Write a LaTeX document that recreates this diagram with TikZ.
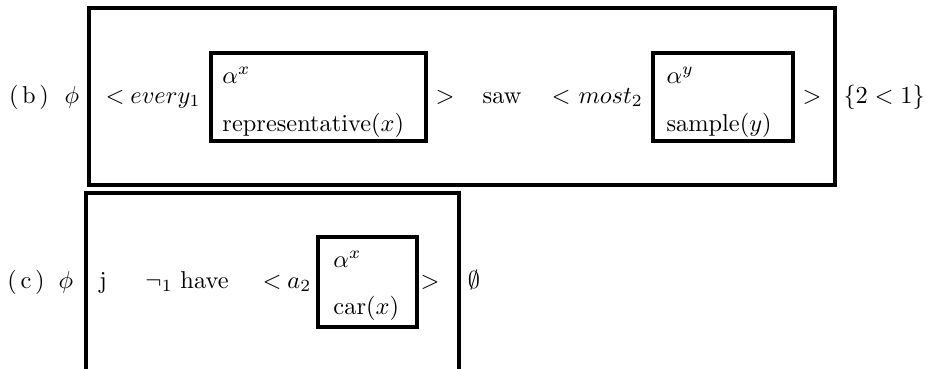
\documentclass[tikz,border=0pt]{standalone}
\usetikzlibrary{fit}
\begin{document}
\begin{tikzpicture}[x=0.41pt,y=-0.41pt,
  frame/.style={draw,line width=1.25pt,inner sep=0pt},
  tok/.style={inner sep=0pt,anchor=base west},
  ctok/.style={inner sep=0pt,anchor=base}]
\useasboundingbox (0,0) rectangle (927,368);
\clip (0,0) rectangle (927,368);

% ---- row (b) ----
\node[ctok] (lblb) at (29,103) {(\kern1.5pt b\kern1.5pt)};
\node[ctok] (phib) at (72,103) {$\phi$};
\node[frame, fit={(89,8) (835,185)}] (boxb) {};
\node[ctok] (ltb1) at (115,103) {$<$};
\node[tok] (every) at (130,103) {$every_1$};
\node[frame, fit={(211,53) (426,141)}] (drsx) {};
\node[tok] (alphax) at (222,83) {$\alpha^x$};
\node[tok] (repr) at (222,131) {representative$(x)$};
\node[ctok] (gtb1) at (445,103) {$>$};
\node[ctok] (saw) at (502,103) {saw};
\node[ctok] (ltb2) at (561,103) {$<$};
\node[tok] (most) at (578,103) {$most_2$};
\node[frame, fit={(653,53) (793,141)}] (drsy) {};
\node[tok] (alphay) at (666,83) {$\alpha^y$};
\node[tok] (sample) at (666,131) {sample$(y)$};
\node[ctok] (gtb2) at (812,103) {$>$};
\node[tok] (order) at (843,103) {$\{2<1\}$};

% ---- row (c) ----
\node[ctok] (lblc) at (26,288) {(\kern1.5pt c\kern1.5pt)};
\node[ctok] (phic) at (66,288) {$\phi$};
\node[frame, fit={(86,193) (459,400)}] (boxc) {};
\node[ctok] (j) at (103,288) {j};
\node[tok] (neg) at (145,288) {$\neg_1$};
\node[tok] (have) at (180,288) {have};
\node[ctok] (ltc) at (272,288) {$<$};
\node[tok] (a) at (287,288) {$a_2$};
\node[frame, fit={(318,237) (417,327)}] (drscar) {};
\node[tok] (alphacx) at (333,267) {$\alpha^x$};
\node[tok] (car) at (333,314) {car$(x)$};
\node[ctok] (gtc) at (430,288) {$>$};
\node[ctok] (empty) at (474,288) {$\emptyset$};
\end{tikzpicture}
\end{document}
